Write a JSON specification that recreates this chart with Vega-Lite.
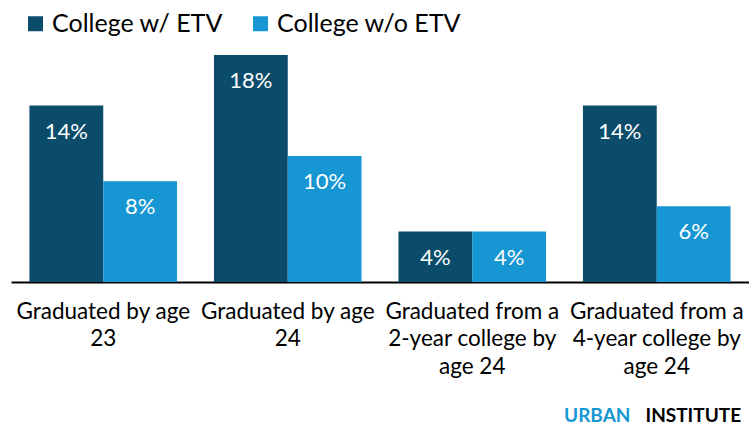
{
  "$schema": "https://vega.github.io/schema/vega-lite/v6.json",
  "width": 738,
  "height": 237,
  "autosize": {"type": "none"},
  "padding": {"left": 11, "top": 45, "right": 0, "bottom": 146},
  "background": "white",
  "config": {
    "font": "Lato",
    "view": {"stroke": null},
    "legend": {"padding": 0}
  },
  "data": {
    "values": [
      {"outcome": "Graduated by age 23", "group": "College w/ ETV", "value": 0.14},
      {"outcome": "Graduated by age 23", "group": "College w/o ETV", "value": 0.08},
      {"outcome": "Graduated by age 24", "group": "College w/ ETV", "value": 0.18},
      {"outcome": "Graduated by age 24", "group": "College w/o ETV", "value": 0.10},
      {"outcome": "Graduated from a 2-year college by age 24", "group": "College w/ ETV", "value": 0.04},
      {"outcome": "Graduated from a 2-year college by age 24", "group": "College w/o ETV", "value": 0.04},
      {"outcome": "Graduated from a 4-year college by age 24", "group": "College w/ ETV", "value": 0.14},
      {"outcome": "Graduated from a 4-year college by age 24", "group": "College w/o ETV", "value": 0.06}
    ]
  },
  "encoding": {
    "x": {
      "field": "outcome",
      "type": "nominal",
      "sort": null,
      "scale": {"paddingInner": 0.2, "paddingOuter": 0.1},
      "axis": {
        "title": "INSTITUTE",
        "titleX": 634,
        "titleY": 139,
        "titleAlign": "left",
        "titleBaseline": "alphabetic",
        "titleColor": "#000000",
        "titleFontSize": 19,
        "titleFontWeight": "bold",
        "domain": true,
        "domainColor": "#000000",
        "domainWidth": 2,
        "ticks": false,
        "labelAngle": 0,
        "labelFontSize": 22.5,
        "labelColor": "#000000",
        "labelBaseline": "top",
        "labelPadding": 18,
        "labelLineHeight": 27.5,
        "labelLimit": 0,
        "labelExpr": "datum.value == 'Graduated by age 23' ? ['Graduated by age', '23'] : datum.value == 'Graduated by age 24' ? ['Graduated by age', '24'] : datum.value == 'Graduated from a 2-year college by age 24' ? ['Graduated from a', '2-year college by', 'age 24'] : ['Graduated from a', '4-year college by', 'age 24']"
      }
    },
    "xOffset": {
      "field": "group",
      "type": "nominal",
      "sort": ["College w/ ETV", "College w/o ETV"],
      "scale": {"paddingInner": 0, "paddingOuter": 0}
    },
    "y": {
      "field": "value",
      "type": "quantitative",
      "scale": {"domain": [0, 0.188], "nice": false},
      "axis": {
        "title": "URBAN",
        "labels": false,
        "ticks": false,
        "domain": false,
        "grid": false,
        "titleAngle": 0,
        "titleX": 619,
        "titleY": 376,
        "titleAlign": "right",
        "titleBaseline": "alphabetic",
        "titleColor": "#1696d2",
        "titleFontSize": 19,
        "titleFontWeight": "bold"
      }
    }
  },
  "layer": [
    {
      "mark": {"type": "bar"},
      "encoding": {
        "color": {
          "field": "group",
          "type": "nominal",
          "sort": ["College w/ ETV", "College w/o ETV"],
          "scale": {"domain": ["College w/ ETV", "College w/o ETV"], "range": ["#0a4c6a", "#1696d2"]},
          "legend": {
            "title": null,
            "orient": "none",
            "direction": "horizontal",
            "legendX": 12,
            "legendY": -34,
            "symbolType": "square",
            "symbolSize": 225,
            "symbolStrokeWidth": 0,
            "symbolOpacity": 1,
            "labelFontSize": 25,
            "labelColor": "#000000",
            "labelOffset": 4,
            "columnPadding": 25,
            "labelLimit": 0
          }
        }
      }
    },
    {
      "mark": {"type": "text", "baseline": "middle", "dy": 26, "color": "white", "fontSize": 22},
      "encoding": {
        "text": {"field": "value", "type": "quantitative", "format": ".0%"}
      }
    }
  ]
}
